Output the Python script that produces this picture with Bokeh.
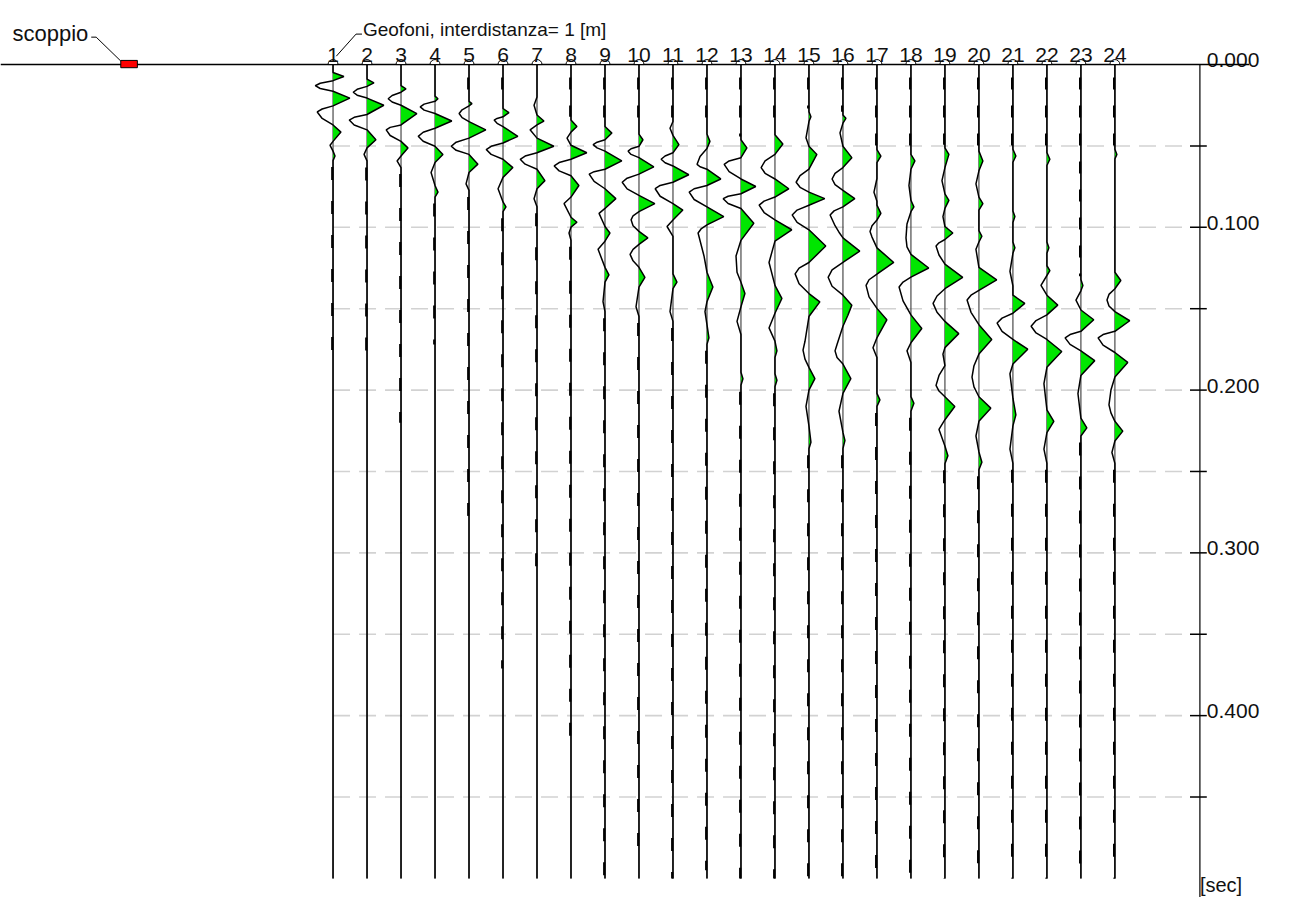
import numpy as np
from bokeh.plotting import figure
from bokeh.models import Range1d
from bokeh.core.properties import value
from bokeh.embed import file_html
from bokeh.resources import INLINE

# ---------------- data ----------------
GEOPHONES = list(range(1, 25))
GEO_POS_M = [float(g) for g in GEOPHONES]          # interdistanza 1 m
SHOT_POS_M = -5.0
SHOT_LABEL = "scoppio"
GEO_TITLE = "Geofoni, interdistanza= 1 [m]"
GRID_TIMES_S = [0.05, 0.10, 0.15, 0.20, 0.25, 0.30, 0.35, 0.40, 0.45]
LABEL_TIMES_S = [0.0, 0.1, 0.2, 0.3, 0.4]
LABEL_TEXTS = ["0.000", "0.100", "0.200", "0.300", "0.400"]
TIME_UNIT = "[sec]"
RECORD_LEN_S = 0.5

# picked wiggle points per trace: times [ms] and amplitudes (arbitrary units)
TRACE_TIMES_MS = [
    [4.9, 7.3, 9.9, 11.5, 13.0, 14.7, 16.4, 20.6, 25.4, 27.3, 29.1, 33.1, 37.1, 41.5, 47.2, 49.6, 53.2, 56.2, 59.0],
    [9.0, 11.3, 13.4, 15.2, 17.0, 18.8, 20.6, 25.0, 30.7, 32.4, 34.1, 37.1, 40.1, 46.2, 51.2, 55.2, 59.2],
    [13.0, 15.0, 17.0, 19.0, 21.0, 23.0, 25.0, 30.1, 37.1, 38.6, 40.1, 43.6, 47.2, 51.2, 56.2, 59.2, 63.3],
    [19.4, 21.0, 22.6, 24.3, 26.0, 28.0, 30.1, 34.7, 39.1, 41.6, 44.1, 47.1, 50.2, 55.2, 60.2, 66.3, 74.3, 78.4, 81.4],
    [22.6, 24.0, 25.4, 27.8, 30.1, 32.6, 35.1, 40.1, 45.2, 47.7, 50.2, 52.7, 55.2, 61.2, 66.3, 73.3, 77.3],
    [27.0, 29.5, 32.1, 33.1, 34.1, 36.1, 38.1, 44.1, 48.2, 50.2, 52.2, 55.2, 58.2, 63.3, 69.3, 76.3, 84.4, 87.4, 90.4],
    [20.0, 25.0, 31.0, 34.7, 37.1, 40.1, 45.2, 50.2, 54.2, 56.2, 58.2, 61.2, 64.3, 71.3, 76.3, 82.4, 87.4],
    [34.1, 38.1, 41.5, 45.2, 49.6, 54.2, 58.2, 60.2, 62.3, 65.3, 68.3, 74.3, 81.4, 85.4, 93.8, 96.9, 99.9, 103.5, 108.0],
    [38.1, 42.1, 46.2, 47.7, 49.2, 51.2, 53.2, 59.2, 64.3, 65.8, 67.3, 71.8, 76.3, 82.4, 88.4, 91.4, 99.5, 103.5, 108.5, 113.5, 124.6, 129.2, 133.7, 145.7, 151.8],
    [42.7, 46.2, 50.2, 51.7, 53.2, 55.2, 57.2, 62.9, 67.3, 69.8, 72.3, 76.4, 80.4, 85.4, 90.4, 92.9, 95.4, 99.0, 102.5, 106.5, 110.5, 113.5, 116.6, 120.6, 124.6, 130.7, 136.7, 148.8, 154.8],
    [35.0, 39.1, 43.5, 49.2, 54.2, 56.2, 58.2, 60.3, 62.3, 67.7, 72.3, 74.3, 76.3, 80.9, 85.4, 89.4, 95.5, 99.5, 105.5, 128.6, 133.7, 137.7, 151.8, 157.8],
    [42.7, 47.2, 51.6, 56.5, 61.3, 62.8, 64.3, 70.3, 74.3, 76.3, 78.4, 82.9, 87.4, 93.4, 98.5, 101.0, 103.5, 117.6, 127.6, 136.7, 145.7, 151.8, 159.8, 167.9, 171.9],
    [46.2, 51.2, 57.2, 59.2, 61.3, 65.8, 70.3, 74.9, 79.4, 80.9, 82.4, 85.4, 88.4, 97.5, 108.0, 117.6, 127.6, 133.7, 140.7, 148.8, 157.8, 165.9, 189.0, 193.0, 197.0],
    [43.1, 48.8, 55.2, 59.2, 63.3, 66.8, 70.3, 76.3, 81.4, 83.9, 86.4, 90.9, 95.4, 101.5, 108.5, 121.6, 135.7, 143.7, 152.8, 161.8, 169.9, 175.9, 180.0, 190.0, 194.0, 198.0],
    [29.0, 32.1, 35.0, 45.0, 50.2, 55.2, 64.3, 68.3, 72.3, 75.4, 78.4, 82.4, 86.4, 89.4, 92.4, 97.0, 101.5, 111.5, 121.6, 125.1, 128.6, 134.7, 140.7, 145.8, 154.8, 170.0, 175.5, 181.0, 186.0, 193.0, 200.0, 210.0, 222.0, 232.0, 236.0],
    [31.0, 33.0, 36.0, 42.0, 50.2, 57.2, 63.3, 66.8, 70.3, 73.8, 77.3, 82.4, 87.4, 89.9, 92.4, 99.0, 103.0, 106.5, 114.6, 121.6, 126.2, 130.7, 136.2, 141.7, 147.8, 154.0, 160.8, 172.0, 175.9, 180.0, 184.0, 193.0, 202.0, 213.0, 226.0, 231.0, 236.0],
    [52.2, 56.2, 60.2, 70.0, 78.4, 84.0, 86.4, 91.4, 95.5, 99.0, 102.5, 106.0, 112.6, 121.6, 128.7, 132.2, 135.7, 142.7, 149.8, 156.8, 167.9, 174.0, 180.0, 202.0, 206.0, 210.0],
    [55.2, 59.2, 64.3, 74.3, 83.4, 87.4, 90.4, 98.0, 106.5, 112.0, 116.6, 125.0, 130.6, 133.6, 136.7, 145.2, 153.8, 162.2, 170.9, 175.9, 183.0, 204.0, 208.1, 213.0],
    [51.2, 55.2, 63.3, 71.3, 79.4, 83.4, 88.4, 93.4, 99.5, 103.5, 107.5, 109.5, 111.5, 117.0, 122.6, 130.7, 137.7, 142.2, 146.7, 152.2, 157.8, 165.3, 173.9, 177.9, 185.0, 191.0, 197.1, 200.6, 204.1, 210.1, 218.2, 224.2, 234.3, 240.3, 245.3],
    [53.2, 59.2, 65.3, 73.3, 81.4, 85.4, 89.4, 102.0, 105.5, 109.0, 113.5, 124.6, 132.3, 138.7, 141.7, 144.7, 152.2, 159.8, 168.9, 177.9, 185.0, 192.0, 198.0, 204.1, 211.1, 219.2, 228.2, 238.0, 244.3, 249.0],
    [52.0, 56.2, 60.0, 90.0, 93.4, 97.0, 109.0, 112.5, 116.0, 127.0, 136.0, 141.7, 146.7, 152.8, 155.8, 158.8, 163.9, 168.9, 174.9, 184.0, 190.0, 205.0, 215.2, 222.0, 236.3, 245.0],
    [54.0, 58.2, 62.0, 109.0, 112.6, 116.0, 123.6, 126.6, 129.6, 135.7, 141.7, 147.8, 153.8, 157.3, 160.8, 164.9, 168.9, 176.3, 186.0, 196.0, 212.1, 219.2, 226.2, 236.3, 245.0],
    [132.0, 135.7, 139.0, 144.7, 150.8, 156.8, 163.9, 165.9, 167.9, 171.9, 175.9, 181.9, 191.0, 202.1, 217.2, 223.2, 228.2],
    [52.0, 55.2, 58.0, 127.6, 132.7, 137.7, 141.2, 144.7, 148.3, 151.8, 157.4, 163.9, 165.9, 167.9, 172.4, 176.9, 183.0, 192.0, 200.0, 209.1, 214.0, 219.2, 225.2, 231.3, 238.3, 245.0],
]
TRACE_AMPS = [
    [0, 11, 0, -13, -18, -13, 0, 17, 0, -11, -16, -11, 0, 8, 0, -3, 0, 2, 0],
    [0, 7, 0, -10, -14, -10, 0, 17, 0, -13, -18, -13, 0, 9, 0, -3, 0],
    [0, 5, 0, -9, -13, -9, 0, 16, 0, -11, -15, -11, 0, 7, 0, -4, 0],
    [0, 3, 0, -11, -15, -11, 0, 17, 0, -12, -17, -12, 0, 8, 0, -4, 0, 3, 0],
    [0, 3, 0, -7, -10, -7, 0, 17, 0, -13, -18, -13, 0, 9, 0, -3, 0],
    [0, 6, 0, -6, -9, -6, 0, 15, 0, -12, -17, -12, 0, 10, 0, -5, 0, 3, 0],
    [0, -3, 0, 7, 0, -7, 0, 17, 0, -12, -17, -12, 0, 8, 0, -3, 0],
    [0, 6, 0, -4, 0, 16, 0, -12, -17, -12, 0, 8, 0, -7, 0, 6, 0, -2, 0],
    [0, 7, 0, -8, -12, -8, 0, 17, 0, -11, -16, -11, 0, 11, 0, -6, 0, 5, 0, -7, 0, 4, 0, -2, 0],
    [0, 4, 0, -8, -11, -8, 0, 15, 0, -12, -17, -12, 0, 16, 0, -6, -8, -6, 0, 9, 0, -6, -9, -6, 0, 6, 0, -3, 0],
    [0, -3, 0, 6, 0, -8, -12, -8, 0, 16, 0, -13, -18, -13, 0, 10, 0, -6, 0, 0, 4, 0, -3, 0],
    [0, 3, 0, -7, -10, -7, 0, 14, 0, -13, -18, -13, 0, 17, 0, -6, -9, -3, 0, 6, 0, -2, 0, 2, 0],
    [0, 6, 0, -12, -17, -12, 0, 15, 0, -13, -18, -13, 0, 13, 0, -5, -4, 0, 4, 0, -4, 0, 0, 2, 0],
    [0, 8, 0, -10, -14, -10, 0, 14, 0, -11, -16, -11, 0, 17, 0, -6, 0, 7, 0, -6, 0, 2, 0, 0, 2, 0],
    [0, 2, 0, -3, 0, 8, 0, -9, -13, -9, 0, 16, 0, -12, -17, -12, 0, 17, 0, -10, -14, -10, 0, 11, 0, -4, -6, -4, 0, 6, 0, -3, 0, 2, 0],
    [0, 3, 0, -3, 0, 9, 0, -8, -11, -8, 0, 12, 0, -9, -13, -8, -4, 0, 17, 0, -11, -15, -11, 0, 9, 5, 0, -6, -8, -6, 0, 8, 0, -4, 0, 2, 0],
    [0, 4, 0, 0, -3, 0, 0, 4, 0, -5, -7, -5, 0, 17, 0, -8, -11, -8, 0, 10, 0, -4, 0, 0, 3, 0],
    [0, 4, 0, -2, 0, 3, 0, -4, -5, -4, 0, 18, 0, -8, -12, -8, 0, 11, 0, -4, 0, 0, 3, 0],
    [0, 4, 0, -3, 0, 4, 0, -2, 0, 8, 0, -6, -9, -6, 0, 18, 0, -8, -12, -8, 0, 14, 0, -2, 0, -6, -9, -6, 0, 10, 0, -6, 0, 3, 0],
    [0, 4, 0, -3, 0, 4, 0, 0, 3, 0, -3, 0, 18, 0, -8, -12, -8, 0, 13, 0, -5, -7, -5, 0, 12, 0, -3, 0, 3, 0],
    [0, 3, 0, 0, 2, 0, 0, 2, 0, -3, 0, 0, 12, 0, -11, -16, -11, 0, 15, 0, -3, 0, 3, 0, -3, 0],
    [0, 3, 0, 0, 2, 0, 0, 3, 0, -6, 0, 11, 0, -11, -16, -11, 0, 15, 0, -3, 0, 7, 0, -3, 0],
    [0, 2, 0, -5, 0, 13, 0, -11, -16, -11, 0, 14, 0, -3, 0, 6, 0],
    [0, 2, 0, 0, 6, 0, -6, -8, -6, 0, 15, 0, -12, -17, -12, 0, 13, 0, -4, -6, -4, 0, 8, 0, -3, 0],
]
# extent of low-level noise (drawn as short dashes) per trace [ms]
NOISE_END_MS = [186, 187, 220, 172, 286, 371, 321, 415, 500, 485, 500, 495,
                500, 500, 500, 500, 500, 500, 500, 500, 500, 500, 500, 500]

# ---------------- figure ----------------
W, H = 1277, 897
REF_W, REF_H = 1293, 913                       # layout drawn in reference pixel units
X0 = GEO_POS_M[0] - 336.7 / 34.42
X1 = X0 + REF_W / 34.42
T_TOP = -65.2 / 1656.7
T_BOT = T_TOP + REF_H / 1656.7
MX = (X1 - X0) / REF_W      # metres per layout pixel
SY = (T_BOT - T_TOP) / REF_H  # seconds per layout pixel
GAIN = 1.0                  # layout pixels per amplitude unit
AX_X = GEO_POS_M[-1] + 2.5  # time-scale position

FONT = value("Liberation Sans")
GREEN = "#00e600"
INK = "#111111"

p = figure(width=W, height=H, x_range=Range1d(X0, X1), y_range=Range1d(T_BOT, T_TOP),
           output_backend="svg", toolbar_location=None,
           x_axis_location=None, y_axis_location=None, min_border=0)
p.grid.visible = False
p.outline_line_color = None
p.background_fill_color = "white"

# grid lines
p.segment(x0=GEO_POS_M[0], x1=AX_X - 10 * MX, y0=GRID_TIMES_S, y1=GRID_TIMES_S,
          line_color="#d2d2d2", line_width=1.6, line_dash="17 9")

# traces
for g, tms, amp, nend in zip(GEO_POS_M, TRACE_TIMES_MS, TRACE_AMPS, NOISE_END_MS):
    t = np.array([0.0] + tms + [RECORD_LEN_S * 1000.0]) / 1000.0
    a = np.array([0.0] + amp + [0.0], dtype=float)
    x = g + a * GAIN * MX
    p.segment(x0=g, y0=0, x1=g, y1=RECORD_LEN_S, line_color="#4a4a4a", line_width=1.2)
    p.harea(x1=np.full_like(t, g), x2=g + np.maximum(a, 0) * GAIN * MX, y=t,
            fill_color=GREEN)
    t_last = tms[-1] / 1000.0
    if nend / 1000.0 > t_last:
        p.line(x=[g - 0.8 * MX] * 2, y=[t_last + 0.004, nend / 1000.0],
               line_color="black", line_width=2.2, line_dash="13 21")
    t_first = tms[0] / 1000.0
    if t_first > 0.02:
        p.line(x=[g - 0.8 * MX] * 2, y=[0.008, t_first - 0.002],
               line_color="black", line_width=2.2, line_dash="12 16")
    p.line(x=x, y=t, line_color="black", line_width=1.5)

# time scale
p.segment(x0=AX_X, y0=0, x1=AX_X, y1=T_BOT + 0.01, line_color="#333333", line_width=1.5)
p.segment(x0=AX_X - 10 * MX, x1=AX_X + 7 * MX, y0=GRID_TIMES_S, y1=GRID_TIMES_S,
          line_color="black", line_width=1.5)
p.text(x=AX_X + 7 * MX, y=[v - 4.5 * SY for v in LABEL_TIMES_S], text=LABEL_TEXTS,
       text_font=FONT, text_font_size="21px", text_color=INK,
       text_align="left", text_baseline="alphabetic")
p.text(x=[AX_X], y=[(889 - 65.2) * SY], text=[TIME_UNIT], text_font=FONT,
       text_font_size="20px", text_color=INK, text_align="left", text_baseline="top")

# surface line
p.segment(x0=X0, y0=0, x1=AX_X + 50 * MX, y1=0, line_color="black", line_width=1.5)

# geophones
p.wedge(x=GEO_POS_M, y=[0.0] * len(GEO_POS_M), radius=5, radius_units="screen",
        start_angle=0, end_angle=np.pi, fill_color="white", line_color="black", line_width=1)
p.text(x=GEO_POS_M, y=[-10 * SY] * len(GEO_POS_M), text=[str(g) for g in GEOPHONES],
       text_font=FONT, text_font_size="21px", text_color=INK,
       text_align="center", text_baseline="alphabetic")
g1 = GEO_POS_M[0]
p.line(x=[g1 + 3.3 * MX, g1 + 23.3 * MX, g1 + 29.3 * MX], y=[-8.5 * SY, -31 * SY, -31 * SY],
       line_color="black", line_width=1)
p.text(x=[g1 + 30.3 * MX], y=[-35.2 * SY], text=[GEO_TITLE], text_font=FONT,
       text_font_size="19px", text_color=INK, text_align="left", text_baseline="alphabetic")

# shot
p.line(x=[SHOT_POS_M - 38.3 * MX, SHOT_POS_M - 33.3 * MX, SHOT_POS_M - 8.3 * MX],
       y=[-27.9 * SY, -27.9 * SY, -3.5 * SY], line_color="black", line_width=1)
p.rect(x=[SHOT_POS_M], y=[-0.5 * SY], width=16.6, height=7.3, width_units="screen",
       height_units="screen", fill_color="#ff0000", line_color="black", line_width=1)
p.text(x=[SHOT_POS_M - 118 * MX], y=[-32 * SY], text=[SHOT_LABEL], text_font=FONT,
       text_font_size="22px", text_color=INK, text_align="left", text_baseline="alphabetic")

open("out.html", "w").write(file_html(p, INLINE))
